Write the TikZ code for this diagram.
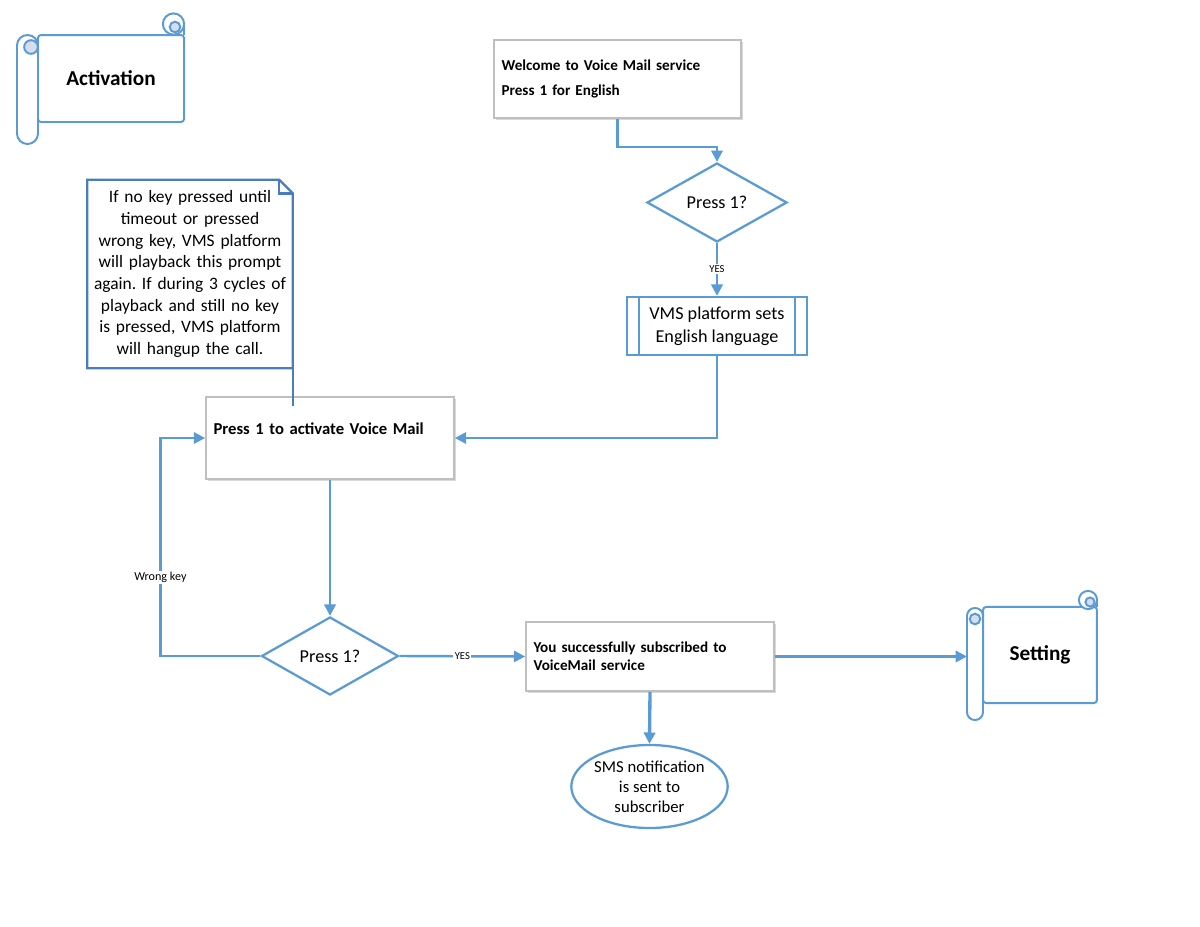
\documentclass[tikz,border=0pt]{standalone}
\usepackage{fontspec}
\setmainfont{Carlito}
\usepackage{xcolor}
\usetikzlibrary{positioning,arrows.meta,shapes.geometric,shadows}
\definecolor{flowblue}{HTML}{5B9BD5}
\definecolor{noteblue}{HTML}{4A7EBB}
\definecolor{boxgray}{HTML}{BFBFBF}
\definecolor{curlfill}{HTML}{D6DEEB}
\frenchspacing

\begin{document}
\begin{tikzpicture}[x=0.66pt,y=-0.66pt,
  flow/.style={draw=flowblue,line width=1.6pt,-{Triangle[length=7.5pt,width=7.5pt]}},
  graybox/.style={draw=boxgray,line width=1.1pt,fill=white,inner xsep=5pt,align=left,
    drop shadow={fill=black,opacity=0.15,shadow xshift=1.3pt,shadow yshift=-1.3pt}},
  decision/.style={diamond,draw=flowblue,line width=1.5pt,fill=white,inner sep=0pt,
    font=\fontsize{12}{14}\selectfont},
  scrollline/.style={draw=flowblue,line width=1.3pt},
  flowlabel/.style={fill=white,inner sep=1pt,font=\fontsize{7}{8}\selectfont}]
\useasboundingbox (0,0) rectangle (1200,927);

% scroll: Activation
\node[scrollline,fill=white,rounded corners=2pt,minimum width=96.4pt,minimum height=57.4pt,
      font=\fontsize{14}{16}\selectfont\bfseries] (act) at (111,78.5) {Activation};
\draw[scrollline,fill=white,rounded corners=6.9pt] (17,35) rectangle (38,144);
\draw[scrollline,fill=curlfill] (31,47) circle[radius=4.5pt];
\draw[scrollline] (184,35) -- (184,24);
\draw[scrollline,fill=white] (173.5,24) circle[radius=7pt];
\draw[scrollline,fill=curlfill] (175,27) circle[radius=3.5pt];

% scroll: Setting
\node[scrollline,fill=white,rounded corners=2pt,minimum width=75.2pt,minimum height=63.4pt,
      font=\fontsize{14}{16}\selectfont\bfseries] (setting) at (1040,655) {Setting};
\draw[scrollline,fill=white,rounded corners=5.2pt] (967,608) rectangle (983,720);
\coordinate (setcyl) at (967,657);
\draw[scrollline,fill=curlfill] (975,619) circle[radius=3.5pt];
\draw[scrollline] (1097,607) -- (1097,600);
\draw[scrollline,fill=white] (1088,600) circle[radius=6pt];
\draw[scrollline,fill=curlfill] (1090,602) circle[radius=3pt];

% language selection
\node[graybox,minimum height=51.5pt,text width=153pt,
      font=\fontsize{10}{12}\selectfont\bfseries] (welcome) at (617.5,79)
  {Welcome to Voice Mail service\\[5pt]Press 1 for English};
\node[decision,minimum width=92.4pt,minimum height=52.1pt] (ask1) at (717,202.5) {Press 1?};
\node[draw=flowblue,line width=1.5pt,fill=white,minimum width=118.8pt,minimum height=38.3pt,
      align=center,font=\fontsize{12}{15}\selectfont] (setlang) at (717,326)
  {VMS platform sets\\English language};
\draw[flowblue,line width=1.5pt]
  ([xshift=8.6pt]setlang.north west) -- ([xshift=8.6pt]setlang.south west)
  ([xshift=-8.6pt]setlang.north east) -- ([xshift=-8.6pt]setlang.south east);

% activation prompt and note
\node[graybox,minimum height=54.1pt,text width=153.7pt,text depth=12pt,
      font=\fontsize{11}{13}\selectfont\bfseries] (activate) at (330,438)
  {Press 1 to activate Voice Mail};
\node[fill=white,text width=133pt,align=center,inner sep=1pt,minimum width=135.3pt,
      minimum height=124pt,font=\fontsize{11.5}{14.3}\selectfont] (note) at (190,274)
  {If no key pressed until\\timeout or pressed\\wrong key, VMS platform\\will playback this prompt\\
   again. If during 3 cycles of\\playback and still no key\\is pressed, VMS platform\\will hangup the call.};
\draw[noteblue,line width=1.5pt] (note.north west) -- ([xshift=-9pt]note.north east)
  -- ([yshift=-9pt]note.north east) -- (note.south east) -- (note.south west) -- cycle;
\draw[noteblue,line width=1.5pt] ([xshift=-9pt]note.north east) |- ([yshift=-9pt]note.north east);
\coordinate (notetip) at (293,406);
\draw[noteblue,line width=1.5pt] (note.south east) -- (note.south east |- notetip);

% confirmation
\node[decision,minimum width=90.4pt,minimum height=51.5pt] (ask2) at (330,656) {Press 1?};
\node[graybox,minimum height=45.5pt,text width=153.7pt,
      font=\fontsize{10}{12}\selectfont\bfseries] (done) at (650,656.5)
  {You successfully subscribed to\\VoiceMail service};
\node[ellipse,draw=flowblue,line width=1.5pt,fill=white,minimum width=102.3pt,
      minimum height=54.8pt,inner sep=0pt,align=center,
      font=\fontsize{11}{13.2}\selectfont] (sms) at (649.5,786.5)
  {SMS notification\\is sent to\\subscriber};

% connectors
\draw[flow] (welcome.south) -- ++(0,28) -| (ask1.north);
\draw[flow] (ask1.south) -- node[flowlabel]{YES} (setlang.north);
\draw[flow] (setlang.south) |- (activate.east);
\draw[flow] (activate.south) -- (ask2.north);
\draw[flow] (ask2.west) -- ++(-100,0) |- node[flowlabel,pos=0.18,font=\fontsize{8}{9}\selectfont]{Wrong key} (activate.west);
\draw[flow] (ask2.east) -- node[flowlabel]{YES} (done.west);
\draw[flow,line width=2.2pt] (done.south) -- (sms.north);
\draw[flow] (done.east) -- (done.east -| setcyl);
\end{tikzpicture}
\end{document}
